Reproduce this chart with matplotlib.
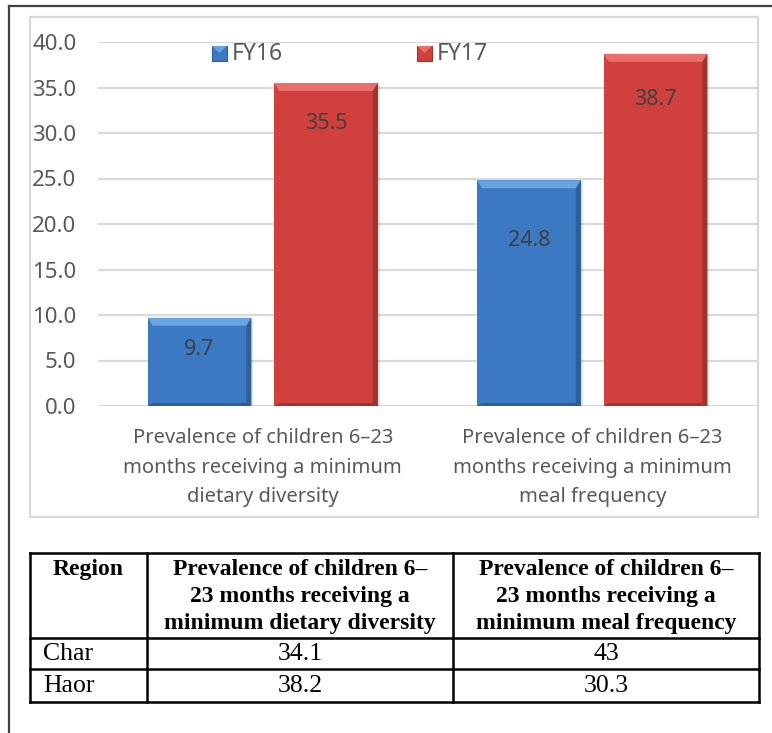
import matplotlib
matplotlib.use("Agg")
import matplotlib.pyplot as plt
from matplotlib.patches import Polygon, Rectangle
from matplotlib.lines import Line2D

# ---- data ----
categories = [
    "Prevalence of children 6\u201323\nmonths receiving a minimum\ndietary diversity",
    "Prevalence of children 6\u201323\nmonths receiving a minimum\nmeal frequency",
]
series_names = ["FY16", "FY17"]
fy16 = [9.7, 24.8]
fy17 = [35.5, 38.7]
y_ticks = [0, 5, 10, 15, 20, 25, 30, 35, 40]

table_header = [
    "Region",
    "Prevalence of children 6\u2013\n23 months receiving a\nminimum dietary diversity",
    "Prevalence of children 6\u2013\n23 months receiving a\nminimum meal frequency",
]
regions = ["Char", "Haor"]
dietary_by_region = ["34.1", "38.2"]
meal_by_region = ["43", "30.3"]

# ---- style ----
W, H = 772, 733
face = {"FY16": "#3B79C3", "FY17": "#D0413D"}
light = {"FY16": "#6AA3E2", "FY17": "#EA6E6A"}
dark = {"FY16": "#2C5F9C", "FY17": "#A3322E"}
label_drop_px = {"FY16": [32, 60], "FY17": [41, 46]}
text_grey = "#595959"
grid_grey = "#D9D9D9"
sans = "Noto Sans"
serif = "Liberation Serif"

fig = plt.figure(figsize=(W / 100, H / 100), dpi=100)

# pixel helpers (origin top-left)
def fx(px):
    return px / W

def fy(py):
    return 1 - py / H

ax_l, ax_r, ax_t, ax_b = 98, 757, 42, 406
ax = fig.add_axes([fx(ax_l), fy(ax_b), fx(ax_r) - fx(ax_l), fy(ax_t) - fy(ax_b)])
ax.set_xlim(-0.5, 1.5)
ax.set_ylim(0, 40)
ax.set_yticks(y_ticks)
ax.set_yticklabels([f"{v:.1f}" for v in y_ticks], fontsize=16, color=text_grey, family=sans)
ax.set_xticks([0, 1])
ax.set_xticklabels(categories, fontsize=14.5, color=text_grey, family=sans, linespacing=1.62)
ax.tick_params(axis="both", length=0)
ax.tick_params(axis="y", pad=15.5)
ax.tick_params(axis="x", pad=16)
for s in ax.spines.values():
    s.set_visible(False)
ax.yaxis.grid(True, color=grid_grey, linewidth=1.6)
ax.set_axisbelow(True)

# data units per pixel
dxp = 2.0 / (ax_r - ax_l)
dyp = 40.0 / (ax_b - ax_t)

width = 0.315
offset = 0.192
xs = [0, 1]


def bevel_bar(x0, h, name):
    x1 = x0 + width
    tb = 8 * dyp   # top bevel height
    sb = 5 * dxp   # side bevel width
    bb = 3 * dyp   # bottom bevel
    # soft shadow
    ax.add_patch(Rectangle((x0 + 2 * dxp, 0), width, h - 1 * dyp,
                           facecolor="#000000", alpha=0.10, zorder=2, linewidth=0))
    ax.add_patch(Rectangle((x0, 0), width, h, facecolor=face[name],
                           edgecolor="none", zorder=3))
    # top bevel
    ax.add_patch(Polygon([(x0, h), (x1, h), (x1 - sb, h - tb), (x0 + sb, h - tb)],
                         closed=True, facecolor=light[name], edgecolor="none", zorder=4))
    # right bevel
    ax.add_patch(Polygon([(x1, h), (x1 - sb, h - tb), (x1 - sb, bb), (x1, 0)],
                         closed=True, facecolor=dark[name], edgecolor="none", zorder=4))
    # bottom bevel
    ax.add_patch(Polygon([(x0, 0), (x1, 0), (x1 - sb, bb), (x0 + sb, bb)],
                         closed=True, facecolor=dark[name], edgecolor="none", zorder=4))


for name, vals, sign in [("FY16", fy16, -1), ("FY17", fy17, 1)]:
    for i, (x, v) in enumerate(zip(xs, vals)):
        x0 = x + sign * offset - width / 2
        bevel_bar(x0, v, name)
        ax.annotate(f"{v:.1f}", (x0 + width / 2, v),
                    xytext=(0, -label_drop_px[name][i]), textcoords="offset pixels",
                    ha="center", va="center", fontsize=15.5, color="#404040",
                    family=sans, zorder=6)

# overlay in pixel coordinates for frames, legend and table
ov = fig.add_axes([0, 0, 1, 1], facecolor="none")
ov.set_xlim(0, W)
ov.set_ylim(H, 0)
ov.axis("off")

# page frame
ov.add_line(Line2D([9, 772], [6, 6], color="#404040", linewidth=1.6))
ov.add_line(Line2D([9, 9], [6, 733], color="#404040", linewidth=1.6))
# chart area border
ov.add_patch(Rectangle((30, 17), 728, 500, facecolor="none", edgecolor=grid_grey, linewidth=1.6))

# legend
for (mx, name) in [(212, "FY16"), (417, "FY17")]:
    ov.add_patch(Rectangle((mx, 46), 15, 15, facecolor=face[name], edgecolor=dark[name], linewidth=0.8))
    ov.add_patch(Polygon([(mx, 46), (mx + 15, 46), (mx + 7.5, 53)], closed=True,
                         facecolor=light[name], edgecolor="none"))
    ov.text(mx + 20, 53.5, name, ha="left", va="center", fontsize=16.5,
            color=text_grey, family=sans)

# table
col_x = [30, 147, 453, 759]
row_y = [553, 638, 669, 702]
for x in col_x:
    ov.add_line(Line2D([x, x], [row_y[0], row_y[-1]], color="black", linewidth=1.8))
for y in row_y:
    ov.add_line(Line2D([col_x[0], col_x[-1]], [y, y], color="black", linewidth=1.8))

for j in range(3):
    ov.text((col_x[j] + col_x[j + 1]) / 2, 559, table_header[j], ha="center", va="top",
            fontsize=17, fontweight="bold", family=serif, linespacing=1.38)

for r, (reg, d, m) in enumerate(zip(regions, dietary_by_region, meal_by_region)):
    yc = (row_y[r + 1] + row_y[r + 2]) / 2 + 1
    ov.text(col_x[0] + 13, yc, reg, ha="left", va="center", fontsize=18.5, family=serif)
    ov.text((col_x[1] + col_x[2]) / 2, yc, d, ha="center", va="center", fontsize=18.5, family=serif)
    ov.text((col_x[2] + col_x[3]) / 2, yc, m, ha="center", va="center", fontsize=18.5, family=serif)

fig.savefig("out.png", dpi=100)
